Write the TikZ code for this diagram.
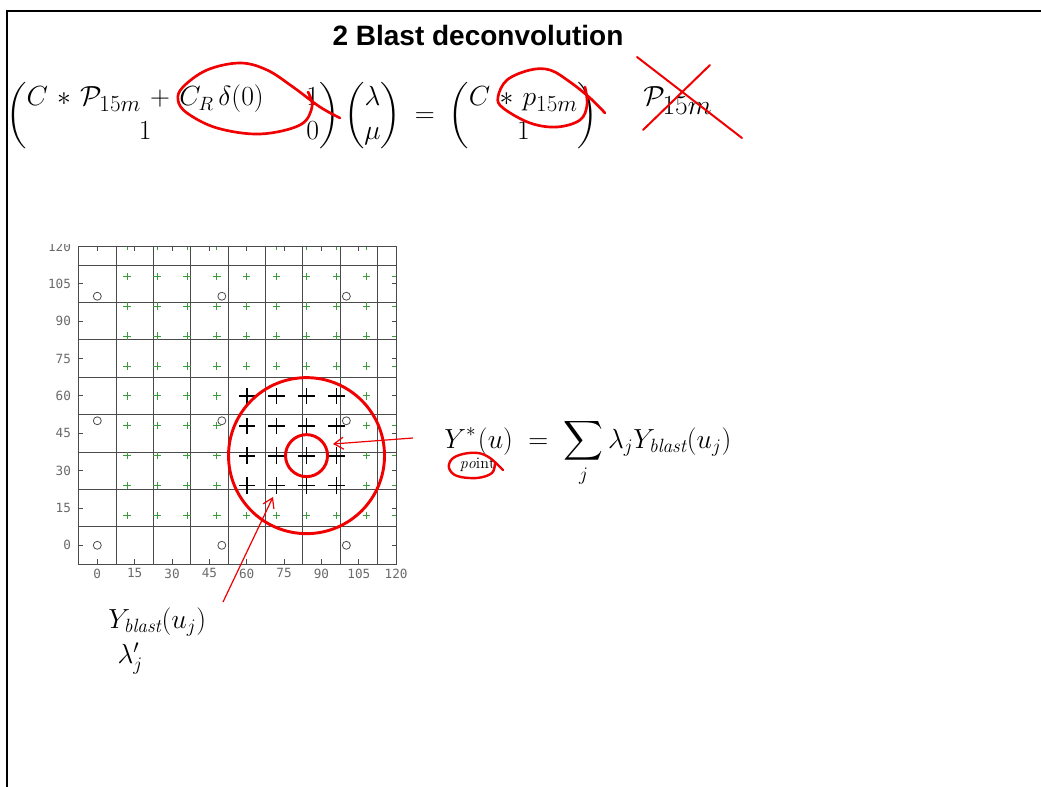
\documentclass[tikz,border=0pt]{standalone}
\usepackage{amsmath}
\usepackage{fontspec}
\usepackage{tikz}
\usetikzlibrary{arrows.meta,positioning}
\newfontfamily\titlefont{Liberation Sans}
\newfontfamily\tickfont{DejaVu Sans Mono}
\definecolor{markred}{HTML}{F00000}
\definecolor{gridcol}{HTML}{4A4A4A}
\definecolor{plusgreen}{HTML}{3C9C3C}
\definecolor{tickcol}{HTML}{6A6A6A}
\tikzset{
  gridline/.style={draw=gridcol,line width=0.6pt},
  ring/.style={circle,draw=markred,line width=2.2pt,inner sep=0pt},
  scribble/.style={draw=markred,line width=2pt,line cap=round,line join=round},
  pointer/.style={draw=markred,line width=0.9pt,-{Straight Barb[length=7pt,width=9pt]}},
  ticklbl/.style={font=\tickfont\fontsize{9.5}{11}\selectfont,text=tickcol,inner sep=0pt},
  mathtxt/.style={inner sep=0pt,font=\huge},
}
\newcommand{\gplus}[2]{\draw[plusgreen,line width=0.6pt] (#1,#2) ++(-1.5,0) -- ++(3,0) (#1,#2) ++(0,-1.5) -- ++(0,3);}
\newcommand{\bplus}[2]{\draw[black,line width=1.3pt] (#1,#2) ++(-3.3,0) -- ++(6.6,0) (#1,#2) ++(0,-3.3) -- ++(0,6.6);}
\newcommand{\widesub}[1]{\mbox{\LARGE$#1$}}
\begin{document}
\begin{tikzpicture}[x=0.75pt,y=-0.75pt]
\useasboundingbox (0,0) rectangle (1041,787);
\draw[line width=1.8pt] (1041,11) -- (7,11) -- (7,787);

\node[font=\titlefont\bfseries\fontsize{21}{24}\selectfont] (title) at (478,35) {2 Blast deconvolution};

\node[mathtxt,anchor=west] (lhs) at (6,116)
  {\setlength{\arraycolsep}{16pt}\medmuskip=6mu plus 2mu\thickmuskip=9mu plus 3mu
   $\begin{pmatrix} C*\mathcal{P}_{\widesub{15m}}+C_R\,\delta(0) & 1\\ 1 & 0\end{pmatrix}\begin{pmatrix}\lambda\\ \mu\end{pmatrix}=\begin{pmatrix}C*p_{\widesub{15m}}\\ 1\end{pmatrix}$};
\node[mathtxt,anchor=base west] (pcal) at (643,106) {$\mathcal{P}_{\mbox{\huge$15m$}}$};

% plot
\begin{scope}[shift={(72.975pt,-408.975pt)},x=1.868pt,y=1.868pt]
  \begin{scope}
    \clip (-7.5,-7.5) rectangle (120,120);
    \foreach \g in {7.5,22.5,...,112.5} {
      \draw[gridline] (\g,-7.5) -- (\g,120);
      \draw[gridline] (-7.5,\g) -- (120,\g);
    }
    \foreach \i in {1,...,10} \foreach \j in {1,...,10} {
      \pgfmathtruncatemacro\inblock{(\i>4)*(\i<9)*(\j>1)*(\j<6)}
      \ifnum\inblock=1 \bplus{12*\i}{12*\j} \else \gplus{12*\i}{12*\j} \fi
    }
    \foreach \cx in {0,50,100} \foreach \cy in {0,50,100}
      \draw[gridcol,line width=0.6pt] (\cx,\cy) circle[radius=1.6];
  \end{scope}
  \draw[gridline] (-7.5,-7.5) rectangle (120,120);
  \foreach \t in {0,15,...,120} {
    \draw[gridline] (\t,-7.5) -- ++(0,1.8) (\t,120) -- ++(0,-1.8);
    \node[ticklbl] at (\t,-11.3) {\t};
  }
  \foreach \t in {0,15,...,105} {
    \draw[gridline] (-7.5,\t) -- ++(1.8,0) (120,\t) -- ++(-1.8,0);
    \node[ticklbl,anchor=east] at (-10.5,\t) {\t};
  }
  \begin{scope}
    \clip (-40,0) rectangle (0,120.8);
    \node[ticklbl,anchor=east] at (-10.5,120) {120};
  \end{scope}
  \coordinate (hit) at (84,36);
\end{scope}

\node[ring,minimum size=117pt] (outerring) at (hit) {};
\node[ring,minimum size=31.5pt] (innerring) at (hit) {};

\node[mathtxt,anchor=base west] (ystar) at (444,448)
  {\thickmuskip=10mu plus 3mu
   $\displaystyle Y^{*}_{\lower10.5pt\hbox to 13pt{$\scriptscriptstyle\mathit{po}\mathrm{int}$\hss}}(u)=\sum_{j}\lambda_{j}Y_{\mathit{blast}}(u_{j})$};
\node[mathtxt,anchor=base west] (ybl) at (108,628) {$Y_{\mathit{blast}}(u_{j})$};
\node[mathtxt,below=5pt of ybl.south west,anchor=north west,xshift=7pt] (lam) {$\lambda_{j}'$};

\coordinate (tailA) at (413,438);
\coordinate (tipA) at (333,444);
\coordinate (tailB) at (223,602);
\coordinate (tipB) at (273,497);
\draw[pointer] (tailA) -- (tipA);
\draw[pointer] (tailB) -- (tipB);

% red marks
\draw[scribble] plot[smooth,tension=0.6] coordinates {(308,92) (312,107) (300,125) (260,134) (217,128) (187,113) (178,100) (183,87) (207,70) (240,63) (267,70) (293,87) (320,107) (340,118)};
\draw[scribble] plot[smooth,tension=0.6] coordinates {(585,87) (587,105) (580,120) (557,127) (530,123) (503,108) (498,97) (507,80) (530,70) (550,70) (570,82) (590,98) (605,113)};
\draw[scribble,line width=1.8pt] plot[smooth,tension=0.6] coordinates {(495,463) (492,473) (477,478) (457,476) (449,468) (452,459) (463,454) (478,453) (490,458) (503,470)};
\draw[scribble,line width=1.5pt] (637,57) -- (742,138) (710,65) -- (643,130);
\end{tikzpicture}
\end{document}
